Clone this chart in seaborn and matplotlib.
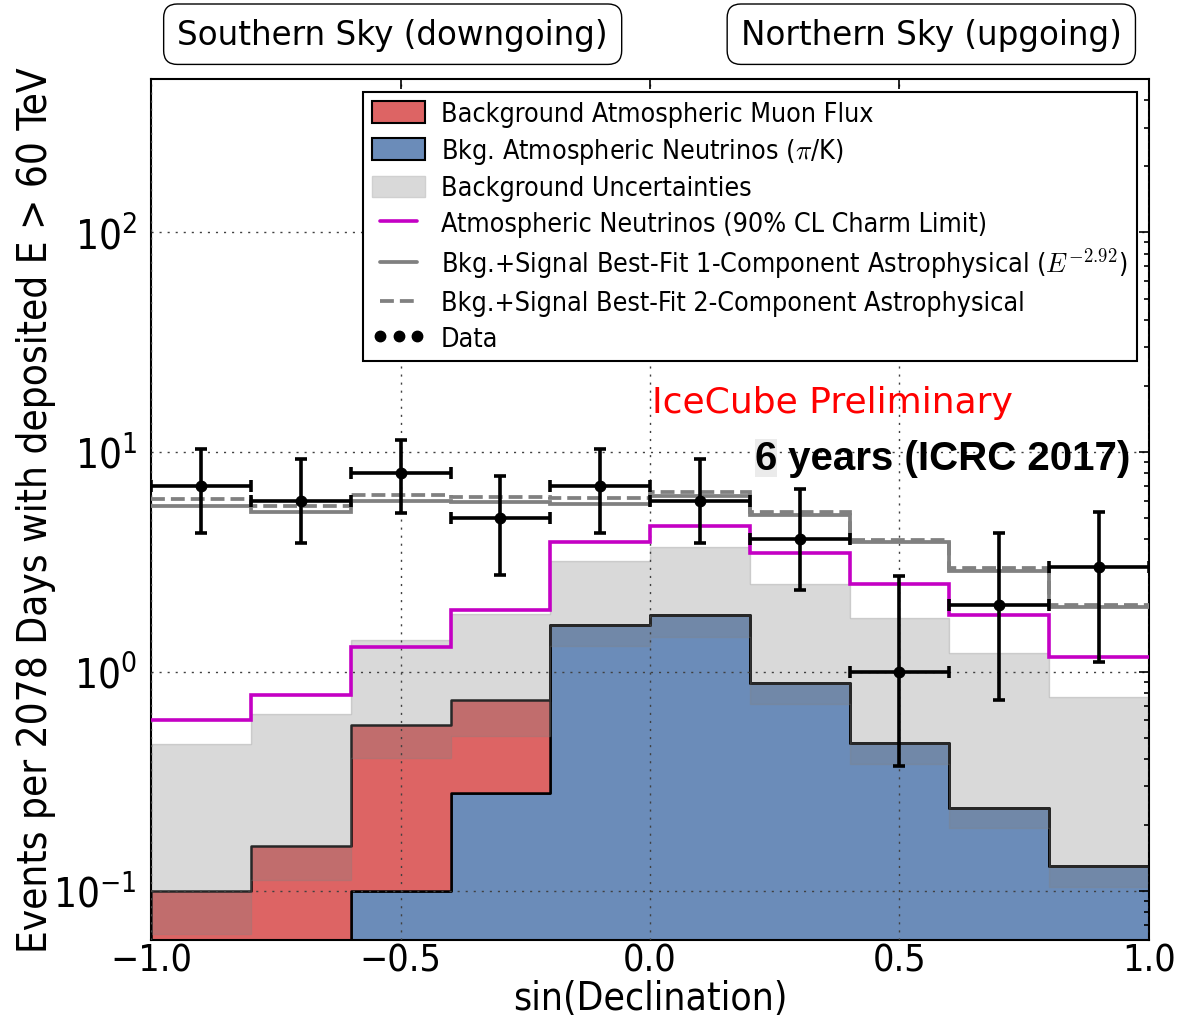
import numpy as np
import pandas as pd
import matplotlib
matplotlib.use("Agg")
import matplotlib.pyplot as plt
import seaborn as sns
from matplotlib.patches import Patch
from matplotlib.lines import Line2D
from matplotlib.ticker import LogLocator, NullLocator, FixedLocator

# ---------------------------------------------------------------- data
bin_edges = [-1.0, -0.8, -0.6, -0.4, -0.2, 0.0, 0.2, 0.4, 0.6, 0.8, 1.0]
bin_centers = [-0.9, -0.7, -0.5, -0.3, -0.1, 0.1, 0.3, 0.5, 0.7, 0.9]

# background expectations per bin (events)
atm_nu_pik = [0.0, 0.0, 0.10, 0.28, 1.63, 1.80, 0.89, 0.47, 0.24, 0.13]
atm_muon = [0.10, 0.16, 0.47, 0.46, 0.0, 0.0, 0.0, 0.0, 0.0, 0.0]

# background uncertainty envelope
bkg_unc_low = [0.064, 0.112, 0.404, 0.509, 1.31, 1.44, 0.709, 0.378, 0.193, 0.104]
bkg_unc_high = [0.466, 0.638, 1.39, 1.83, 3.17, 3.68, 2.51, 1.75, 1.21, 0.766]

# model predictions
charm_limit = [0.60, 0.78, 1.29, 1.90, 3.90, 4.61, 3.47, 2.51, 1.80, 1.17]
fit_1comp = [5.65, 5.31, 6.00, 5.89, 5.79, 6.27, 5.16, 3.90, 2.88, 1.96]
fit_2comp = [6.10, 5.69, 6.36, 6.25, 6.15, 6.57, 5.32, 3.98, 2.95, 2.00]

# observed events and their confidence intervals
data_counts = [7, 6, 8, 5, 7, 6, 4, 1, 2, 3]
data_low = [4.26, 3.84, 5.25, 2.76, 4.26, 3.84, 2.34, 0.372, 0.742, 1.11]
data_high = [10.3, 9.25, 11.3, 7.79, 10.3, 9.25, 6.80, 2.73, 4.26, 5.31]

# ---------------------------------------------------------------- style
sns.set_theme(style="white")
plt.rcParams.update({
    "font.family": ["DejaVu Sans"],
    "font.stretch": "condensed",
    "mathtext.fontset": "cm",
    "axes.linewidth": 1.5,
    "axes.edgecolor": "black",
    "xtick.color": "black",
    "ytick.color": "black",
    "text.color": "black",
    "axes.labelcolor": "black",
})

RED = "#dd6464"
BLUE = "#6b8cb9"
BAND = "#828282"
GREY = "#808080"
MAGENTA = "#c400c4"

fig = plt.figure(figsize=(11.81, 10.20), dpi=100)
ax = fig.add_axes([0.1281, 0.0777, 0.8446, 0.8439])

# stacked background histogram: muons on top of conventional neutrinos
bkg = pd.DataFrame({
    "sin_dec": bin_centers * 2,
    "events": atm_muon + atm_nu_pik,
    "component": ["muon"] * len(bin_centers) + ["nu"] * len(bin_centers),
})
sns.histplot(
    data=bkg, x="sin_dec", weights="events", hue="component",
    hue_order=["muon", "nu"], palette={"muon": RED, "nu": BLUE},
    bins=bin_edges, multiple="stack", element="step", alpha=1,
    edgecolor="black", linewidth=1.8, legend=False, ax=ax,
)
ax.set_yscale("log")

# uncertainty envelope
edges = np.asarray(bin_edges)
lo = np.append(bkg_unc_low, bkg_unc_low[-1])
hi = np.append(bkg_unc_high, bkg_unc_high[-1])
ax.fill_between(edges, lo, hi, step="post", facecolor=BAND, edgecolor=BAND,
                alpha=0.3, linewidth=1.0, zorder=1.6)

# model lines
ax.stairs(charm_limit, edges, baseline=None, color=MAGENTA, linewidth=2.6, zorder=4)
ax.stairs(fit_1comp, edges, baseline=None, color=GREY, linewidth=2.7, zorder=4)
ax.stairs(fit_2comp, edges, baseline=None, color=GREY, linewidth=2.7,
          linestyle="--", zorder=4.1)

# data with asymmetric errors
counts = np.asarray(data_counts, dtype=float)
yerr = [counts - np.asarray(data_low), np.asarray(data_high) - counts]
xerr = np.diff(edges) / 2
ax.errorbar(bin_centers, counts, xerr=xerr, yerr=yerr, fmt="o", color="black",
            markersize=7.5, elinewidth=2.6, capsize=4.5, capthick=2.6, zorder=6)

# ---------------------------------------------------------------- axes
ax.set_xlim(-1.0, 1.0)
ax.set_ylim(0.06, 500)
ax.xaxis.set_major_locator(FixedLocator([-1.0, -0.5, 0.0, 0.5, 1.0]))
ax.xaxis.set_minor_locator(NullLocator())
ax.yaxis.set_major_locator(LogLocator(base=10, numticks=10))
ax.yaxis.set_minor_locator(LogLocator(base=10, subs=np.arange(2, 10), numticks=20))

ax.tick_params(which="both", direction="in", top=True, right=True, width=1.2)
ax.tick_params(which="major", length=7)
ax.tick_params(which="minor", length=3.6)
ax.tick_params(axis="x", pad=2, labelsize=27)
ax.tick_params(axis="y", pad=10.5, labelsize=29)

ax.set_axisbelow(False)
ax.grid(True, which="major", color="0.25", linewidth=1.0,
        linestyle=(0, (1.5, 4.3)))
for s in ax.spines.values():
    s.set_visible(True)
    s.set_linewidth(1.5)
    s.set_color("black")

ax.set_xlabel("sin(Declination)", fontsize=28, labelpad=0)
ax.set_ylabel("Events per 2078 Days with deposited E > 60 TeV", fontsize=29,
              labelpad=-2)

# ---------------------------------------------------------------- legend
handles = [
    Patch(facecolor=RED, edgecolor="black", linewidth=1.5,
          label="Background Atmospheric Muon Flux"),
    Patch(facecolor=BLUE, edgecolor="black", linewidth=1.5,
          label=r"Bkg. Atmospheric Neutrinos ($\pi$/K)"),
    Patch(facecolor="#d9d9d9", edgecolor="#d0d0d0", linewidth=1.0,
          label="Background Uncertainties"),
    Line2D([], [], color=MAGENTA, linewidth=2.6,
           label="Atmospheric Neutrinos (90% CL Charm Limit)"),
    Line2D([], [], color=GREY, linewidth=2.7,
           label=r"Bkg.+Signal Best-Fit 1-Component Astrophysical ($E^{-2.92}$)"),
    Line2D([], [], color=GREY, linewidth=2.7, linestyle="--",
           label="Bkg.+Signal Best-Fit 2-Component Astrophysical"),
    Line2D([], [], color="black", marker="o", linestyle="none", markersize=7.5,
           label="Data"),
]
leg = ax.legend(handles=handles, loc="upper right", bbox_to_anchor=(0.988, 0.985),
                borderaxespad=0, numpoints=3, handlelength=1.95, handleheight=0.85,
                handletextpad=0.6, labelspacing=0.34, borderpad=0.35,
                fancybox=False, framealpha=1, prop={"size": 19.3, "stretch": "condensed"})
leg.get_frame().set_edgecolor("black")
leg.get_frame().set_linewidth(1.5)
leg.set_zorder(10)

# ---------------------------------------------------------------- annotations
box = dict(boxstyle="round,pad=0.42", facecolor="white", edgecolor="black", linewidth=1.0)
ax.text(0.242, 1.052, "Southern Sky (downgoing)", transform=ax.transAxes,
        ha="center", va="center", fontsize=23.5, fontstretch="normal", bbox=box)
ax.text(0.782, 1.052, "Northern Sky (upgoing)", transform=ax.transAxes,
        ha="center", va="center", fontsize=23.5, fontstretch="normal", bbox=box)

ax.text(0.502, 0.613, "IceCube Preliminary", transform=ax.transAxes, color="red",
        fontsize=26, fontstretch="normal", va="baseline", ha="left", zorder=8)

bold = dict(family="Liberation Sans", fontweight="bold", fontsize=29)
six = ax.text(0.605, 0.547, "6", transform=ax.transAxes, va="baseline", ha="left",
              bbox=dict(facecolor="#ebebeb", edgecolor="none", pad=0), zorder=8, **bold)
ax.annotate(" years (ICRC 2017)", xy=(1, 0), xycoords=six, va="bottom", ha="left",
            zorder=8, **bold)

fig.savefig("out.png", dpi=100)
